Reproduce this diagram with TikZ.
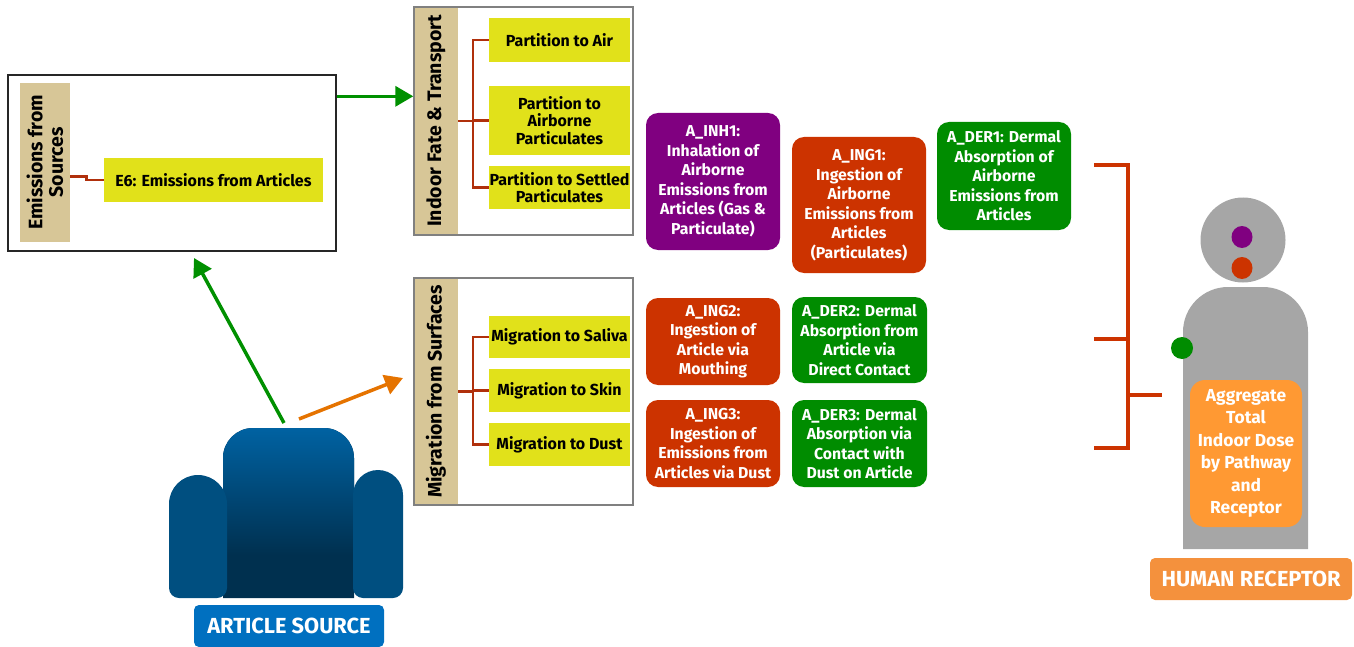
\documentclass[tikz,border=0pt]{standalone}
\usepackage{fontspec}
\setmainfont{Fira Sans}
\usetikzlibrary{arrows.meta,positioning,calc}
\definecolor{sand}{HTML}{D7C697}
\definecolor{lemon}{HTML}{E1E11A}
\definecolor{brick}{HTML}{B0300C}
\definecolor{plum}{HTML}{800080}
\definecolor{rust}{HTML}{CC3300}
\definecolor{grass}{HTML}{008C00}
\definecolor{amber}{HTML}{FF9933}
\definecolor{tangerine}{HTML}{F4913D}
\definecolor{royal}{HTML}{0070C0}
\definecolor{stone}{HTML}{A6A6A6}
\definecolor{chairhi}{HTML}{0062A2}
\definecolor{chairlo}{HTML}{00304F}
\definecolor{chairarm}{HTML}{004F80}
\definecolor{sprout}{HTML}{009000}
\definecolor{ember}{HTML}{E57300}

\begin{document}
\begin{tikzpicture}[
  x=1pt,y=-1pt,
  sized/.style 2 args={minimum width=#1pt,minimum height=#2pt},
  frame/.style={draw=#1,line width=1.4pt,inner sep=0pt},
  bar/.style={fill=sand,rotate=90,inner sep=0pt,align=center,
    font=\fontsize{19.5}{20.5}\selectfont\bfseries},
  sub/.style={fill=lemon,inner sep=0pt,align=center,
    font=\fontsize{16}{17.5}\selectfont\bfseries},
  route/.style={fill=#1,text=white,rounded corners=12pt,inner sep=0pt,
    align=center,font=\fontsize{15.8}{19.5}\selectfont\bfseries},
  badge/.style={fill=#1,text=white,rounded corners=5pt,inner sep=0pt,
    font=\fontsize{21.8}{24}\selectfont\bfseries},
  tree/.style={brick,line width=2.6pt},
  bracket/.style={rust,line width=4pt},
  flow/.style={#1,line width=3.5pt,-{Triangle[length=18pt,width=20pt]}}]
\useasboundingbox (0,0) rectangle (1354,647);

% sources
\node[frame=black!85,sized={328}{176}] (emis) at (172,163) {};
\node[bar,sized={159}{50}] (emisbar) at (45,162.5) {Emissions from\\Sources};
\node[sub,sized={219}{44}] (e6) at (213.5,180) {E6: Emissions from Articles};
\draw[tree] ([yshift=-14pt]emisbar.south) -- ++(16,0) |- (e6.west);

% fate and transport
\node[bar,sized={228}{44}] (fatebar) at (436,121) {Indoor Fate \& Transport};
\node[frame=black!50,sized={219}{228}] (fate) at (523.5,121) {};
\node[sub,sized={141}{44}] (air) at (559.5,40) {Partition to Air};
\node[sub,sized={141}{69}] (airp) at (559.5,120.5) {Partition to\\Airborne\\Particulates};
\node[sub,sized={141}{43}] (settled) at (559.5,187.5) {Partition to Settled\\Particulates};
\draw[tree] (fatebar.south) -- ++(15,0);
\draw[tree] (air.west) -- ++(-16,0) |- (settled.west);
\draw[tree] (airp.west) -- ++(-16,0);

% migration
\node[bar,sized={227}{44}] (migbar) at (436,391.5) {Migration from Surfaces};
\node[frame=black!50,sized={219}{227}] (mig) at (523.5,391.5) {};
\node[sub,sized={141}{42}] (saliva) at (559.5,337) {Migration to Saliva};
\node[sub,sized={141}{43}] (skin) at (559.5,390.5) {Migration to Skin};
\node[sub,sized={141}{43}] (dust) at (559.5,444.5) {Migration to Dust};
\draw[tree] (migbar.south) -- ++(15,0);
\draw[tree] (saliva.west) -- ++(-16,0) |- (dust.west);
\draw[tree] (skin.west) -- ++(-16,0);

% exposure pathways
\node[route=plum,sized={134}{137}] (inh1) at (713,181.5) {A\_INH1:\\Inhalation of\\Airborne\\Emissions from\\Articles (Gas \&\\Particulate)};
\node[route=rust,sized={134}{136}] (ing1) at (859,205) {A\_ING1:\\Ingestion of\\Airborne\\Emissions from\\Articles\\(Particulates)};
\node[route=grass,sized={134}{108}] (der1) at (1004,176) {A\_DER1: Dermal\\Absorption of\\Airborne\\Emissions from\\Articles};
\node[route=rust,sized={134}{87}] (ing2) at (713,341.5) {A\_ING2:\\Ingestion of\\Article via\\Mouthing};
\node[route=grass,sized={135}{86}] (der2) at (859.5,340) {A\_DER2: Dermal\\Absorption from\\Article via\\Direct Contact};
\node[route=rust,sized={134}{87}] (ing3) at (713,443.5) {A\_ING3:\\Ingestion of\\Emissions from\\Articles via Dust};
\node[route=grass,sized={135}{87}] (der3) at (859.5,443.5) {A\_DER3: Dermal\\Absorption via\\Contact with\\Dust on Article};

% bracket into the receptor
\coordinate (hi) at (1094,165);
\coordinate (mid) at (1094,339);
\coordinate (lo) at (1094,448);
\coordinate (spine) at (1128,395);
\coordinate (toward) at (1162,395);
\draw[bracket] (hi) -| (spine) |- (lo);
\draw[bracket] (mid) -- (mid -| spine);
\draw[bracket] (spine) -- (toward);

% receptor figure
\fill[stone] (1183,549) -- (1183,332) arc[start angle=180,end angle=90,radius=45pt]
  -- (1263,287) arc[start angle=90,end angle=0,radius=45pt] -- (1308,549) -- cycle;
\fill[stone] (1243,240) circle[radius=42.5pt];
\fill[plum] (1242,237) ellipse[x radius=10.5pt,y radius=11pt];
\fill[rust] (1242,268) ellipse[x radius=10.5pt,y radius=11pt];
\fill[grass] (1182,348) circle[radius=11pt];
\node[fill=amber,text=white,rounded corners=15pt,inner sep=0pt,align=center,
  sized={112}{147},font=\fontsize{17.4}{22.5}\selectfont\bfseries] (total) at (1246,453.5)
  {Aggregate\\Total\\Indoor Dose\\by Pathway\\and\\Receptor};
\node[badge=tangerine,sized={202}{42}] (human) at (1251,579) {HUMAN RECEPTOR};

% article source chair
\fill[chairlo] (223,598) -- (223,458) arc[start angle=180,end angle=90,radius=30pt]
  -- (324,428) arc[start angle=90,end angle=0,radius=30pt] -- (354,598) -- cycle;
\shade[top color=chairhi,bottom color=chairlo] (223,555) -- (223,458)
  arc[start angle=180,end angle=90,radius=30pt] -- (324,428)
  arc[start angle=90,end angle=0,radius=30pt] -- (354,555) -- cycle;
\fill[chairarm] (169,588) -- (169,504) arc[start angle=180,end angle=0,radius=29pt]
  -- (227,588) arc[start angle=0,end angle=-90,radius=10pt] -- (179,598)
  arc[start angle=270,end angle=180,radius=10pt] -- cycle;
\fill[chairarm] (353,588) -- (353,495) arc[start angle=180,end angle=0,radius=25pt]
  -- (403,588) arc[start angle=0,end angle=-90,radius=10pt] -- (363,598)
  arc[start angle=270,end angle=180,radius=10pt] -- cycle;
\node[badge=royal,sized={190}{42}] (article) at (289,626) {ARTICLE SOURCE};

% flows
\coordinate (lift) at (284,423);
\coordinate (emisfoot) at (194,258);
\coordinate (spread) at (299,419);
\coordinate (migside) at (403,378);
\draw[flow=sprout] (lift) -- (emisfoot);
\draw[flow=ember] (spread) -- (migside);
\draw[flow=sprout] ([yshift=-22pt]emis.north east) -- ([yshift=-22pt]emis.north east -| fate.west);
\end{tikzpicture}
\end{document}
